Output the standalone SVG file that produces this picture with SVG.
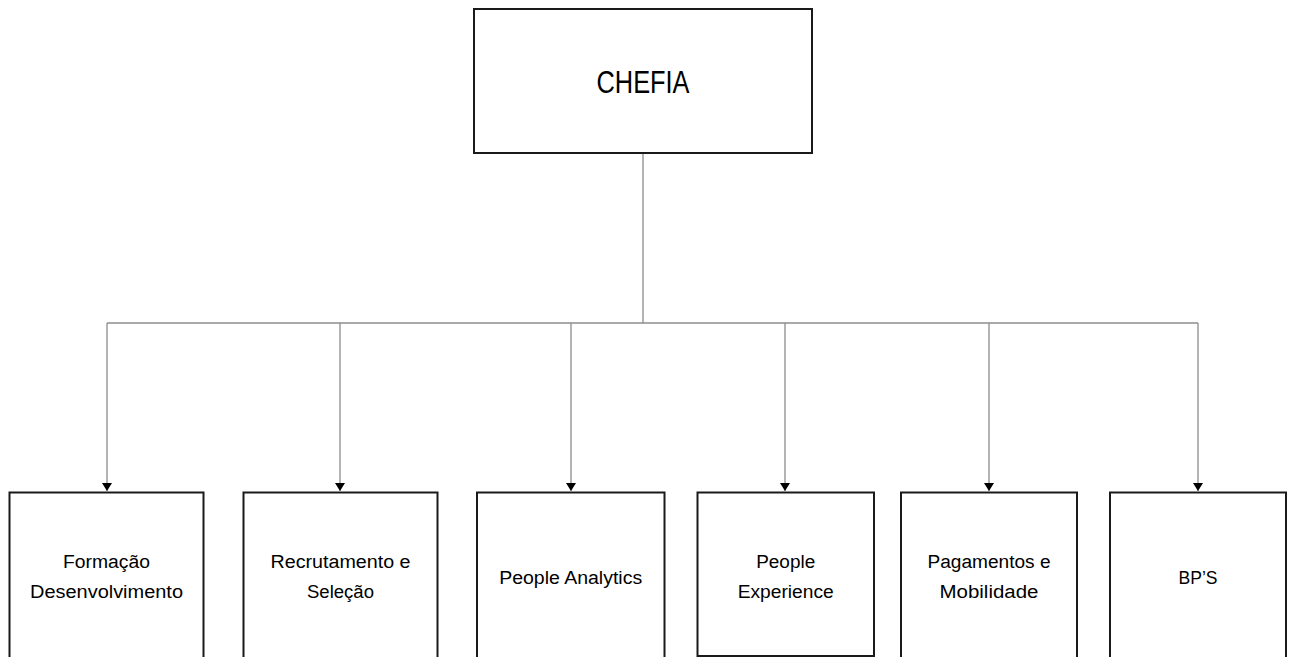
<svg xmlns="http://www.w3.org/2000/svg" width="1289" height="657" viewBox="0 0 1289 657">
<defs>
<style>
.box{fill:#fff;stroke:#1a1a1a;stroke-width:2}
.conn{fill:none;stroke:#8c8c8c;stroke-width:1.3}
.lbl{font-family:"Liberation Sans",Arial,sans-serif;font-size:18px;fill:#000;text-anchor:middle}
.title{font-family:"Liberation Sans",Arial,sans-serif;font-size:31px;fill:#000;text-anchor:middle}
</style>
<marker id="arr" viewBox="0 0 8 10" refX="8" refY="5" markerWidth="8" markerHeight="10" markerUnits="userSpaceOnUse" orient="auto">
<path d="M0,0 L8,5 L0,10 Z" fill="#000"/>
</marker>
</defs>
<rect width="1289" height="657" fill="#fff"/>
<g id="connectors">
<path class="conn" d="M643,153 V323"/>
<path class="conn" d="M107,323 H1198"/>
<path class="conn" d="M107,323 V491" marker-end="url(#arr)"/>
<path class="conn" d="M340,323 V491" marker-end="url(#arr)"/>
<path class="conn" d="M571,323 V491" marker-end="url(#arr)"/>
<path class="conn" d="M785,323 V491" marker-end="url(#arr)"/>
<path class="conn" d="M989,323 V491" marker-end="url(#arr)"/>
<path class="conn" d="M1198,323 V491" marker-end="url(#arr)"/>
</g>
<g id="chefia">
<rect class="box" x="474" y="9" width="338" height="144"/>
<text class="title" x="643" y="93" textLength="93" lengthAdjust="spacingAndGlyphs">CHEFIA</text>
</g>
<g id="formacao">
<rect class="box" x="9.5" y="492.5" width="194" height="170"/>
<text class="lbl" x="106.5" y="568" textLength="87" lengthAdjust="spacingAndGlyphs">Formação</text>
<text class="lbl" x="106.5" y="598" textLength="153" lengthAdjust="spacingAndGlyphs">Desenvolvimento</text>
</g>
<g id="recrutamento">
<rect class="box" x="243.5" y="492.5" width="194" height="170"/>
<text class="lbl" x="340.5" y="568" textLength="140" lengthAdjust="spacingAndGlyphs">Recrutamento e</text>
<text class="lbl" x="340.5" y="598" textLength="67" lengthAdjust="spacingAndGlyphs">Seleção</text>
</g>
<g id="people-analytics">
<rect class="box" x="477" y="492.5" width="187.5" height="170"/>
<text class="lbl" x="570.7" y="584" textLength="143" lengthAdjust="spacingAndGlyphs">People Analytics</text>
</g>
<g id="people-experience">
<rect class="box" x="697.5" y="492.5" width="176.5" height="163.5"/>
<text class="lbl" x="785.7" y="568" textLength="59" lengthAdjust="spacingAndGlyphs">People</text>
<text class="lbl" x="785.7" y="598" textLength="96" lengthAdjust="spacingAndGlyphs">Experience</text>
</g>
<g id="pagamentos">
<rect class="box" x="901" y="492.5" width="176" height="170"/>
<text class="lbl" x="989" y="568" textLength="123" lengthAdjust="spacingAndGlyphs">Pagamentos e</text>
<text class="lbl" x="989" y="598" textLength="99" lengthAdjust="spacingAndGlyphs">Mobilidade</text>
</g>
<g id="bps">
<rect class="box" x="1110" y="492.5" width="176" height="170"/>
<text class="lbl" x="1198" y="584" textLength="39" lengthAdjust="spacingAndGlyphs">BP’S</text>
</g>
</svg>
